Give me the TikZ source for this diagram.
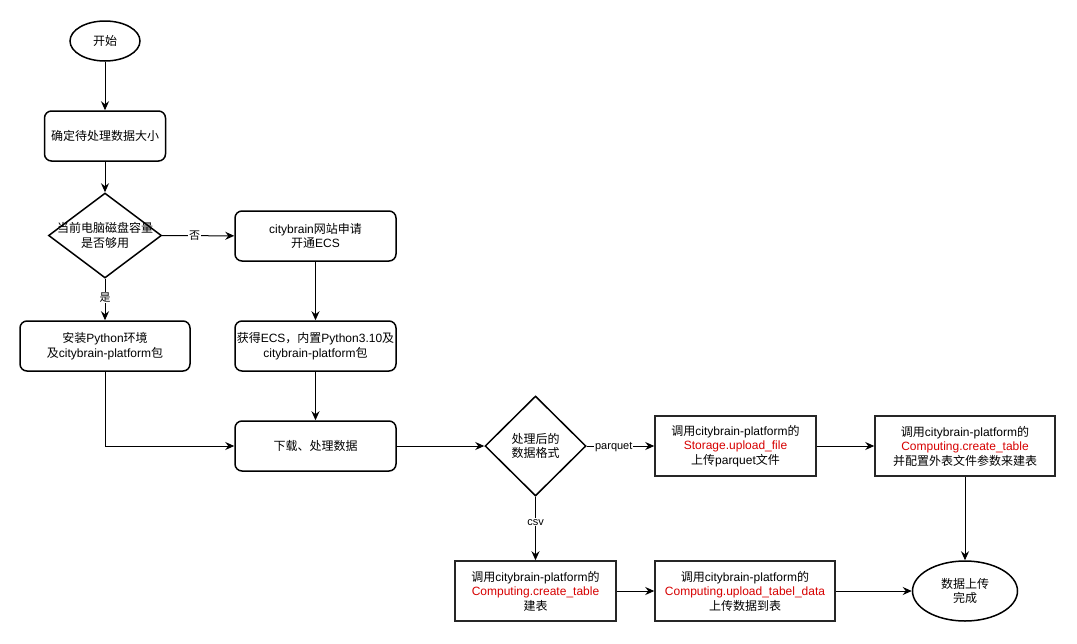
\documentclass[tikz,border=0pt]{standalone}
\usepackage{fontspec}
\setmainfont{Liberation Sans}
\newfontfamily\cjk{Noto Sans CJK SC}
\usetikzlibrary{shapes.geometric,arrows.meta}
\newcommand{\zh}[1]{{\cjk #1}}
\definecolor{apired}{RGB}{214,0,0}
\tikzset{
  every node/.style={font=\fontsize{12}{14.5}\selectfont, align=center},
  rbox/.style={draw, line width=1.5pt, rounded corners=7pt, minimum width=#1, minimum height=50pt, inner sep=0pt},
  sbox/.style={draw, draw=black!85, line width=1.5pt, minimum width=#1, minimum height=60pt, inner sep=0pt},
  oval/.style={draw, ellipse, line width=1.5pt, inner sep=0pt},
  dia/.style={draw, diamond, line width=1.5pt, inner sep=0pt, minimum width=#1},
  arr/.style={draw, line width=1pt, -{Stealth[length=9pt,width=8pt,inset=3pt]}},
  elab/.style={fill=white, inner sep=1pt, font=\fontsize{11}{13}\selectfont},
}
\begin{document}
\begin{tikzpicture}[x=1pt,y=-1pt]
\useasboundingbox (0,0) rectangle (1077,643);
\node[oval, minimum width=70pt, minimum height=40pt] (start) at (105,41) {\zh{开始}};
\node[rbox=121pt] (size) at (105,136) {\zh{确定待处理数据大小}};
\node[dia=113pt, minimum height=85pt] (d1) at (105,235.5) {};
\node (d1t) at (d1) {\zh{当前电脑磁盘容量}\\\zh{是否够用}};
\node[rbox=161pt] (apply) at (315.5,236) {citybrain\zh{网站申请}\\\zh{开通}ECS};
\node[rbox=170pt] (inst) at (105,346) {\zh{安装}Python\zh{环境}\\\zh{及}citybrain-platform\zh{包}};
\node[rbox=161pt] (ecs) at (315.5,346) {\zh{获得}ECS\zh{，内置}Python3.10\zh{及}\\citybrain-platform\zh{包}};
\node[rbox=161pt] (dl) at (315.5,446) {\zh{下载、处理数据}};
\node[dia=101pt, minimum height=100pt] (d2) at (535.5,446) {};
\node (d2t) at (d2) {\zh{处理后的}\\\zh{数据格式}};
\node[sbox=161pt] (sto) at (735.5,446) {\zh{调用}citybrain-platform\zh{的}\\\textcolor{apired}{Storage.upload\_file}\\\zh{上传}parquet\zh{文件}};
\node[sbox=180pt] (ct1) at (965,446) {\zh{调用}citybrain-platform\zh{的}\\\textcolor{apired}{Computing.create\_table}\\\zh{并配置外表文件参数来建表}};
\node[sbox=161pt] (ct2) at (535.5,591) {\zh{调用}citybrain-platform\zh{的}\\\textcolor{apired}{Computing.create\_table}\\\zh{建表}};
\node[sbox=180pt] (up) at (745,591) {\zh{调用}citybrain-platform\zh{的}\\\textcolor{apired}{Computing.upload\_tabel\_data}\\\zh{上传数据到表}};
\node[oval, minimum width=105pt, minimum height=60pt] (end) at (965,591) {\zh{数据上传}\\\zh{完成}};

\draw[arr] (start) -- (size);
\draw[arr] (size) -- (d1);
\draw[arr] (d1) -- node[elab, pos=0.45] (lno) {\zh{否}} (apply);
\draw[arr] (d1) -- node[elab, pos=0.45] (lyes) {\zh{是}} (inst);
\draw[arr] (apply) -- (ecs);
\draw[arr] (ecs) -- (dl);
\draw[arr] (inst) |- (dl);
\draw[arr] (dl) -- (d2);
\draw[arr] (d2) -- node[elab, pos=0.4, yshift=-1pt] (lpq) {parquet} (sto);
\draw[arr] (sto) -- (ct1);
\draw[arr] (ct1) -- (end);
\draw[arr] (d2) -- node[elab, pos=0.4] (lcsv) {csv} (ct2);
\draw[arr] (ct2) -- (up);
\draw[arr] (up) -- (end);
\end{tikzpicture}
\end{document}
